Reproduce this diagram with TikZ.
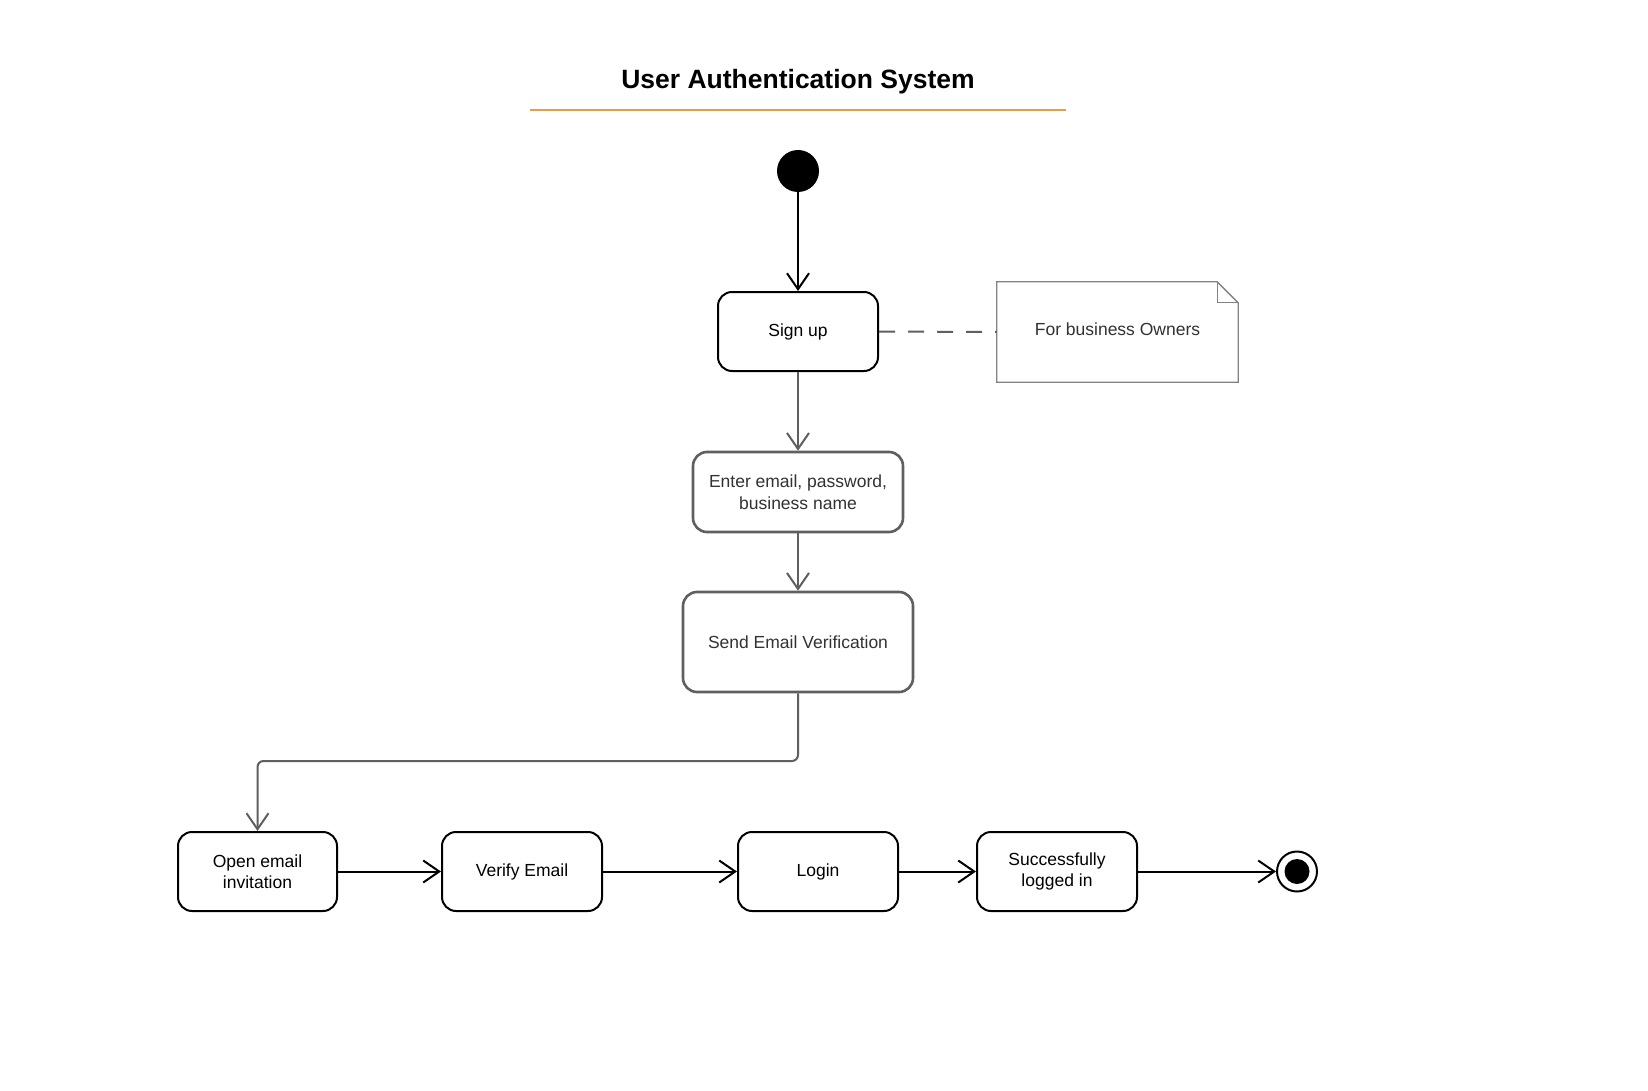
\documentclass[tikz,border=0pt]{standalone}
\usepackage{fontspec}
\setmainfont{Liberation Sans}
\usetikzlibrary{arrows.meta}
\definecolor{grayline}{RGB}{95,95,95}
\definecolor{graytext}{RGB}{50,50,50}
\definecolor{notegray}{RGB}{130,130,130}
\definecolor{titleline}{RGB}{222,160,80}
\tikzset{
  state/.style={draw=black, line width=2pt, rounded corners=14pt, align=center,
    font=\fontsize{17.5}{21.5}\selectfont, inner sep=0pt},
  gstate/.style={draw=grayline, line width=2.6pt, rounded corners=14pt, align=center,
    text=graytext, font=\fontsize{17.5}{21.5}\selectfont, inner sep=0pt},
  barb/.style={-{Straight Barb[length=16pt,width=22pt,line width=2pt]}},
  bline/.style={barb, draw=black, line width=2pt},
  gline/.style={barb, draw=grayline, line width=2pt},
}
\begin{document}
\begin{tikzpicture}[x=1pt,y=-1pt]
\useasboundingbox[fill=white] (0,0) rectangle (1648,1091);

% title
\node[font=\fontsize{26.5}{30}\selectfont\bfseries] (title) at (798,82) {User Authentication System};
\coordinate (tl) at (530,110);
\coordinate (tr) at (1066,110);
\draw[titleline, line width=2pt] (tl) -- (tr);

% initial
\node[circle, fill=black, minimum size=42pt, inner sep=0pt] (init) at (798,171) {};

% states
\node[state, minimum width=160pt, minimum height=79pt] (signup) at (798,331.5) {Sign up};
\node[gstate, minimum width=210pt, minimum height=80pt] (enter) at (798,492) {Enter email, password,\\business name};
\node[gstate, minimum width=230pt, minimum height=100pt] (send) at (798,642) {Send Email Verification};

\node[state, minimum width=159pt, minimum height=79pt] (open) at (257.5,871.5) {Open email\\invitation};
\node[state, minimum width=160pt, minimum height=79pt] (verify) at (522,871.5) {Verify Email};
\node[state, minimum width=160pt, minimum height=79pt] (login) at (818,871.5) {Login};
\node[state, minimum width=160pt, minimum height=79pt] (success) at (1057,871.5) {Successfully\\logged in};

% final
\node[circle, draw=black, line width=2pt, minimum size=40pt, inner sep=0pt] (final) at (1297,871.5) {};
\node[circle, fill=black, minimum size=25pt, inner sep=0pt] (finalin) at (final.center) {};

% note
\node[minimum width=241pt, minimum height=100pt, inner sep=0pt] (note) at (1117.5,332) {};
\node[text=graytext, font=\fontsize{17.5}{21.5}\selectfont] (notetext) at (1117.5,329) {For business Owners};
\draw[notegray, line width=1.3pt, line join=miter]
  (note.north west) -- ([xshift=-21pt]note.north east) -- ([yshift=-21pt]note.north east)
  -- (note.south east) -- (note.south west) -- cycle;
\draw[notegray, line width=1.3pt]
  ([xshift=-21pt]note.north east) -- ([xshift=-21pt,yshift=-21pt]note.north east) -- ([yshift=-21pt]note.north east);

% connectors
\draw[bline] (init) -- (signup.north);
\draw[grayline, line width=2pt, dash pattern=on 16pt off 13pt] (signup.east) -- (note.west);
\draw[gline] (signup.south) -- (enter.north);
\draw[gline] (enter.south) -- (send.north);
\coordinate (b1) at (798,761);
\coordinate (b2) at (257.5,761);
\draw[gline, rounded corners=6pt] (send.south) -- (b1) -- (b2) -- (open.north);
\draw[bline] (open.east) -- (verify.west);
\draw[bline] (verify.east) -- (login.west);
\draw[bline] (login.east) -- (success.west);
\draw[bline] (success.east) -- (final.west);
\end{tikzpicture}
\end{document}
